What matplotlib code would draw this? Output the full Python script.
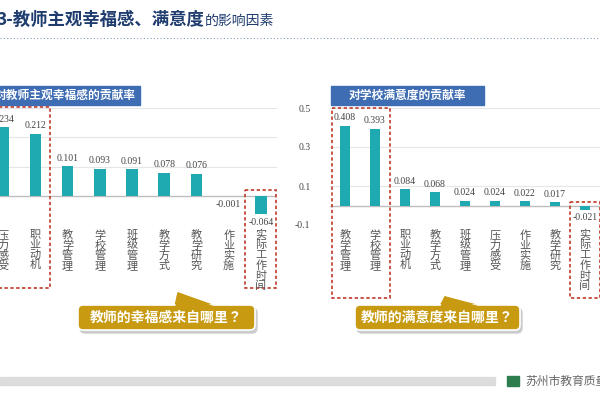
import matplotlib
matplotlib.use("Agg")
import matplotlib.pyplot as plt
from matplotlib.patches import Rectangle, FancyBboxPatch, Polygon

CJK = "Noto Sans CJK JP"
plt.rcParams["font.family"] = [CJK, "DejaVu Sans"]

left_title = "对教师主观幸福感的贡献率"
left_cats = ["压力感受", "职业动机", "教学管理", "学校管理", "班级管理", "教学方式", "教学研究", "作业实施", "实际工作时间"]
left_vals = [0.234, 0.212, 0.101, 0.093, 0.091, 0.078, 0.076, -0.001, -0.064]
left_labels = ["0.234", "0.212", "0.101", "0.093", "0.091", "0.078", "0.076", "-0.001", "-0.064"]

right_title = "对学校满意度的贡献率"
right_cats = ["教学管理", "学校管理", "职业动机", "教学方式", "班级管理", "压力感受", "作业实施", "教学研究", "实际工作时间"]
right_vals = [0.408, 0.393, 0.084, 0.068, 0.024, 0.024, 0.022, 0.017, -0.021]
right_labels = ["0.408", "0.393", "0.084", "0.068", "0.024", "0.024", "0.022", "0.017", "-0.021"]
right_ticks = [-0.1, 0.1, 0.3, 0.5]

W, H = 600, 400
fig = plt.figure(figsize=(6, 4), dpi=100)
fig.patch.set_facecolor("white")

def px_axes(x0, y0, x1, y1, **kw):
    return fig.add_axes([x0 / W, 1 - y1 / H, (x1 - x0) / W, (y1 - y0) / H], **kw)

TEAL = "#1fa9b0"
serif = "Liberation Serif"

def bar_chart(ax, cats, vals, labels, ylim, grid, ticks_shown):
    ax.set_xlim(-0.5, 8.5)
    ax.set_ylim(*ylim)
    for g in grid:
        ax.axhline(g, color="#e6e6e6", lw=0.8, zorder=0)
    ax.axhline(0, color="#bdbdbd", lw=1.0, zorder=1)
    xs = range(len(vals))
    ax.bar(xs, vals, width=0.36, color=TEAL, zorder=2)
    span = ylim[1] - ylim[0]
    for x, v, l in zip(xs, vals, labels):
        if v >= 0:
            ax.text(x, v + span * 0.03, l, ha="center", va="bottom", fontsize=7, family=serif, color="#444444")
        else:
            ax.text(x, v - span * 0.03, l, ha="center", va="top", fontsize=7, family=serif, color="#444444")
    for s in ax.spines.values():
        s.set_visible(False)
    ax.set_xticks([])
    if ticks_shown:
        ax.set_yticks(grid)
        ax.set_yticklabels([f"{t:g}" for t in grid], family=serif, fontsize=7, color="#444444")
        ax.tick_params(axis="y", length=0, pad=14)
    else:
        ax.set_yticks([])
    ax.patch.set_alpha(0)

axL = px_axes(-13, 108, 277, 225)
bar_chart(axL, left_cats, left_vals, left_labels, (-0.1, 0.3), [0.1, 0.2, 0.3], False)
axR = px_axes(330, 108, 600, 225)
bar_chart(axR, right_cats, right_vals, right_labels, (-0.1, 0.5), right_ticks, True)

ov = fig.add_axes([0, 0, 1, 1], zorder=10)
ov.set_xlim(0, W)
ov.set_ylim(H, 0)
ov.axis("off")
ov.patch.set_alpha(0)

def cat_labels(ax, cats):
    for i, c in enumerate(cats):
        xd = ax.transData.transform((i, 0))[0]
        xp = ov.transData.inverted().transform((xd, 0))[0]
        ov.text(xp, 230, "\n".join(c), ha="center", va="top", fontsize=8, color="#555555", linespacing=1.0)

cat_labels(axL, left_cats)
cat_labels(axR, right_cats)

ov.text(-3, 20, "3-教师主观幸福感、满意度", fontsize=12.5, fontweight="bold", color="#1f3c6e", va="center")
ov.text(205, 21, "的影响因素", fontsize=10, color="#1f3c6e", va="center")
ov.plot([0, 600], [38, 38], ls=(0, (1, 2)), color="#8a9bb0", lw=0.8)

BLUE = "#3f6db3"
ov.add_patch(Rectangle((0, 86), 140, 19, color=BLUE))
ov.text(-5, 95.5, left_title, color="white", fontsize=8.5, fontweight="bold", va="center")
ov.add_patch(Rectangle((331, 86), 153, 19, color=BLUE))
ov.text(407, 95.5, right_title, color="white", fontsize=8.5, fontweight="bold", va="center", ha="center")

RED = "#c0392b"
for (x0, y0, x1, y1) in [(-5, 107, 50, 288), (245, 190, 276, 288), (332, 108, 390, 298), (570, 202, 600, 298)]:
    ov.add_patch(Rectangle((x0, y0), x1 - x0, y1 - y0, fill=False, ec=RED, ls=(0, (2, 1.5)), lw=1.2))

GOLD = "#c79a12"
def callout(x0, x1, px0, px1, ptip, text):
    ov.add_patch(FancyBboxPatch((x0 + 2, 308), x1 - x0, 25, boxstyle="round,pad=0,rounding_size=5", color="#cccccc", zorder=1))
    ov.add_patch(Polygon([(px0, 306), (px1, 306), ptip], closed=True, color=GOLD, zorder=2))
    ov.add_patch(FancyBboxPatch((x0, 305), x1 - x0, 25, boxstyle="round,pad=0,rounding_size=5", color=GOLD, ec="white", lw=1.2, zorder=2))
    ov.add_patch(Polygon([(px0 + 1, 307), (px1 - 1, 307), ptip], closed=True, color=GOLD, zorder=3))
    ov.text((x0 + x1) / 2, 318, text, color="white", fontsize=10, fontweight="bold", ha="center", va="center", zorder=4)

callout(78, 255, 175, 215, (178, 293), "教师的幸福感来自哪里？")
callout(355, 520, 440, 480, (445, 297), "教师的满意度来自哪里？")

ov.add_patch(Rectangle((0, 377), 495, 8, color="#dcdcdc"))
ov.add_patch(Rectangle((507, 376), 12, 10, color="#2e7d4f"))
ov.text(525, 381, "苏州市教育质量", fontsize=8.5, color="#666666", va="center")

fig.savefig("out.png", dpi=100)
